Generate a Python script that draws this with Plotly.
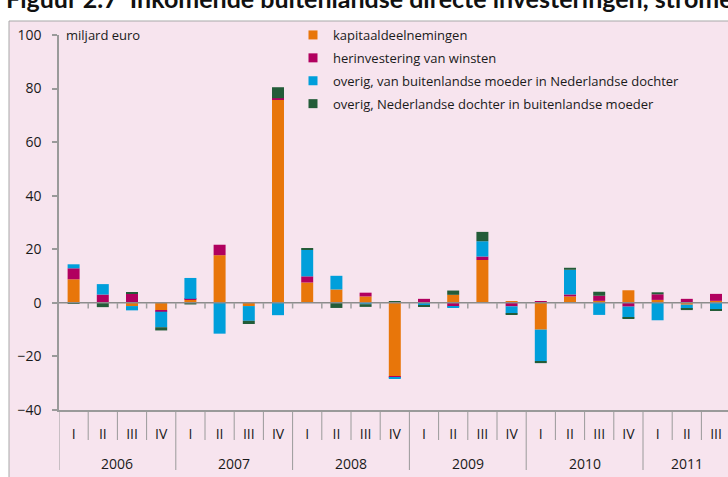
import plotly.graph_objects as go

years = ["2006", "2007", "2008", "2009", "2010", "2011"]
quarter_labels = ["I", "II", "III", "IV"] * 5 + ["I", "II", "III"]
categories = [f"{years[i // 4]} {q}" for i, q in enumerate(quarter_labels)]

kapitaal = [8.8, 0.0, -1.2, -2.7,
            1.2, 17.8, -1.2, 76.0,
            7.6, 5.0, 2.4, -27.6,
            0.0, 3.0, 16.0, 0.7,
            -10.0, 2.4, 0.75, 4.7,
            1.1, -0.7, 0.75]
herinvestering = [4.1, 3.1, 3.6, -0.6,
                  0.3, 3.9, 0.0, 0.4,
                  2.3, 0.0, 1.4, -0.2,
                  1.5, -1.5, 1.3, -1.3,
                  0.4, 0.75, 1.9, -1.4,
                  2.1, 1.5, 2.6]
overig_moeder = [1.5, 3.9, -1.6, -5.8,
                 7.8, -11.5, -5.5, -4.6,
                 9.9, 5.1, -0.5, -0.4,
                 -1.0, -0.4, 5.7, -2.7,
                 -11.7, 9.2, -4.5, -4.1,
                 -6.5, -1.5, -2.5]
overig_dochter = [-0.3, -1.6, 0.4, -1.2,
                  -0.6, 0.0, -1.2, 4.1,
                  0.4, -1.9, -1.0, 0.6,
                  -0.4, 1.6, 3.5, -0.3,
                  -0.8, 0.75, 1.5, -0.5,
                  0.75, -0.5, -0.5]

series_names = ["kapitaaldeelnemingen",
                "herinvestering van winsten",
                "overig, van buitenlandse moeder in Nederlandse dochter",
                "overig, Nederlandse dochter in buitenlandse moeder"]
series_values = [kapitaal, herinvestering, overig_moeder, overig_dochter]
colors = ["#E8760A", "#B1005F", "#009FDB", "#235C38"]

W, H = 728, 477
ML, MR, MT, MB = 59, 0, 35, 67
pw = W - ML - MR
ph = H - MT - MB


def px_x(p):
    return (p - ML) / pw


def px_y(p):
    return (H - MB - p) / ph


FONT = "'Open Sans', Lato, sans-serif"
TXT = "#1a1a1a"

fig = go.Figure()
for name, vals, col in zip(series_names, series_values, colors):
    fig.add_trace(go.Bar(x=categories, y=vals, name=name, marker_color=col,
                         marker_line_width=0, width=0.41, showlegend=False,
                         hoverinfo="skip"))
for i, (name, col) in enumerate(zip(series_names, colors)):
    fig.add_trace(go.Scatter(x=[None], y=[None], mode="markers", name=name,
                             legendgroup=f"g{i}",
                             marker=dict(symbol="square", size=9, color=col)))

shapes = []
# pink panel
shapes.append(dict(type="rect", xref="paper", yref="paper",
                   x0=px_x(9), x1=px_x(740), y0=px_y(490), y1=px_y(21),
                   fillcolor="#F7E4EE", line=dict(color="#a8a8a8", width=1),
                   layer="below"))
# zero line
shapes.append(dict(type="line", xref="paper", yref="y", x0=0, x1=1.01, y0=0, y1=0,
                   line=dict(color="#8c8c8c", width=1.5), layer="above"))
n = len(categories)
for k in range(n - 1):
    b = k + 0.5
    shapes.append(dict(type="line", xref="x", yref="y", x0=b, x1=b, y0=0, y1=-2.1,
                       line=dict(color="#a0a0a0", width=1.5), layer="above"))
year_starts = [-0.5, 3.5, 7.5, 11.5, 15.5, 19.5]
for k in range(n):
    b = k + 0.5
    if b in year_starts:
        continue
    shapes.append(dict(type="line", xref="x", yref="paper", x0=b, x1=b,
                       y0=0, y1=px_y(440), line=dict(color="#9a9a9a", width=1)))
for b in year_starts:
    shapes.append(dict(type="line", xref="x", yref="paper", x0=b, x1=b,
                       y0=0, y1=px_y(470), line=dict(color="#9a9a9a", width=1)))

annotations = []
year_centers = [1.5, 5.5, 9.5, 13.5, 17.5, 21.0]
for yr, c in zip(years, year_centers):
    annotations.append(dict(x=c, y=px_y(463), xref="x", yref="paper", text=yr,
                            showarrow=False, font=dict(family=FONT, size=14, color=TXT),
                            xanchor="center", yanchor="middle"))
annotations.append(dict(x=px_x(64), y=1.0, xref="paper", yref="paper",
                        text="miljard euro", showarrow=False,
                        font=dict(family=FONT, size=13, color=TXT),
                        xanchor="left", yanchor="middle"))
annotations.append(dict(x=px_x(4), y=px_y(15), xref="paper", yref="paper",
                        text="<b>Figuur 2.7  Inkomende buitenlandse directe investeringen, stromen</b>",
                        showarrow=False, font=dict(family="Lato, sans-serif", size=25, color="#111"),
                        xanchor="left", yanchor="bottom"))

fig.update_layout(
    width=W, height=H,
    margin=dict(l=ML, r=MR, t=MT, b=MB, pad=0),
    paper_bgcolor="white", plot_bgcolor="rgba(0,0,0,0)",
    barmode="relative", bargap=0.5,
    font=dict(family=FONT, size=13, color=TXT),
    shapes=shapes, annotations=annotations,
    hovermode=False,
    legend=dict(x=px_x(293), y=px_y(20), xanchor="left", yanchor="top",
                bgcolor="rgba(0,0,0,0)", font=dict(family=FONT, size=13, color=TXT),
                tracegroupgap=3, itemwidth=30),
    xaxis=dict(type="category", range=[-0.5, -0.5 + pw / 29.2],
               tickvals=categories, ticktext=quarter_labels,
               showline=True, linecolor="#9a9a9a", linewidth=1.5,
               ticks="", ticklabelstandoff=10, showgrid=False, zeroline=False,
               tickfont=dict(family=FONT, size=14, color=TXT)),
    yaxis=dict(range=[-40, 100], tickvals=[-40, -20, 0, 20, 40, 60, 80, 100],
               showline=True, linecolor="#9a9a9a", linewidth=1.5,
               ticks="outside", ticklen=5, tickcolor="#9a9a9a", tickwidth=1.5,
               ticklabelstandoff=8, showgrid=False, zeroline=False,
               tickfont=dict(family=FONT, size=14, color=TXT)),
)

fig.write_html("out.html", config={"displayModeBar": False},
               post_script="document.body.style.margin='0';")
